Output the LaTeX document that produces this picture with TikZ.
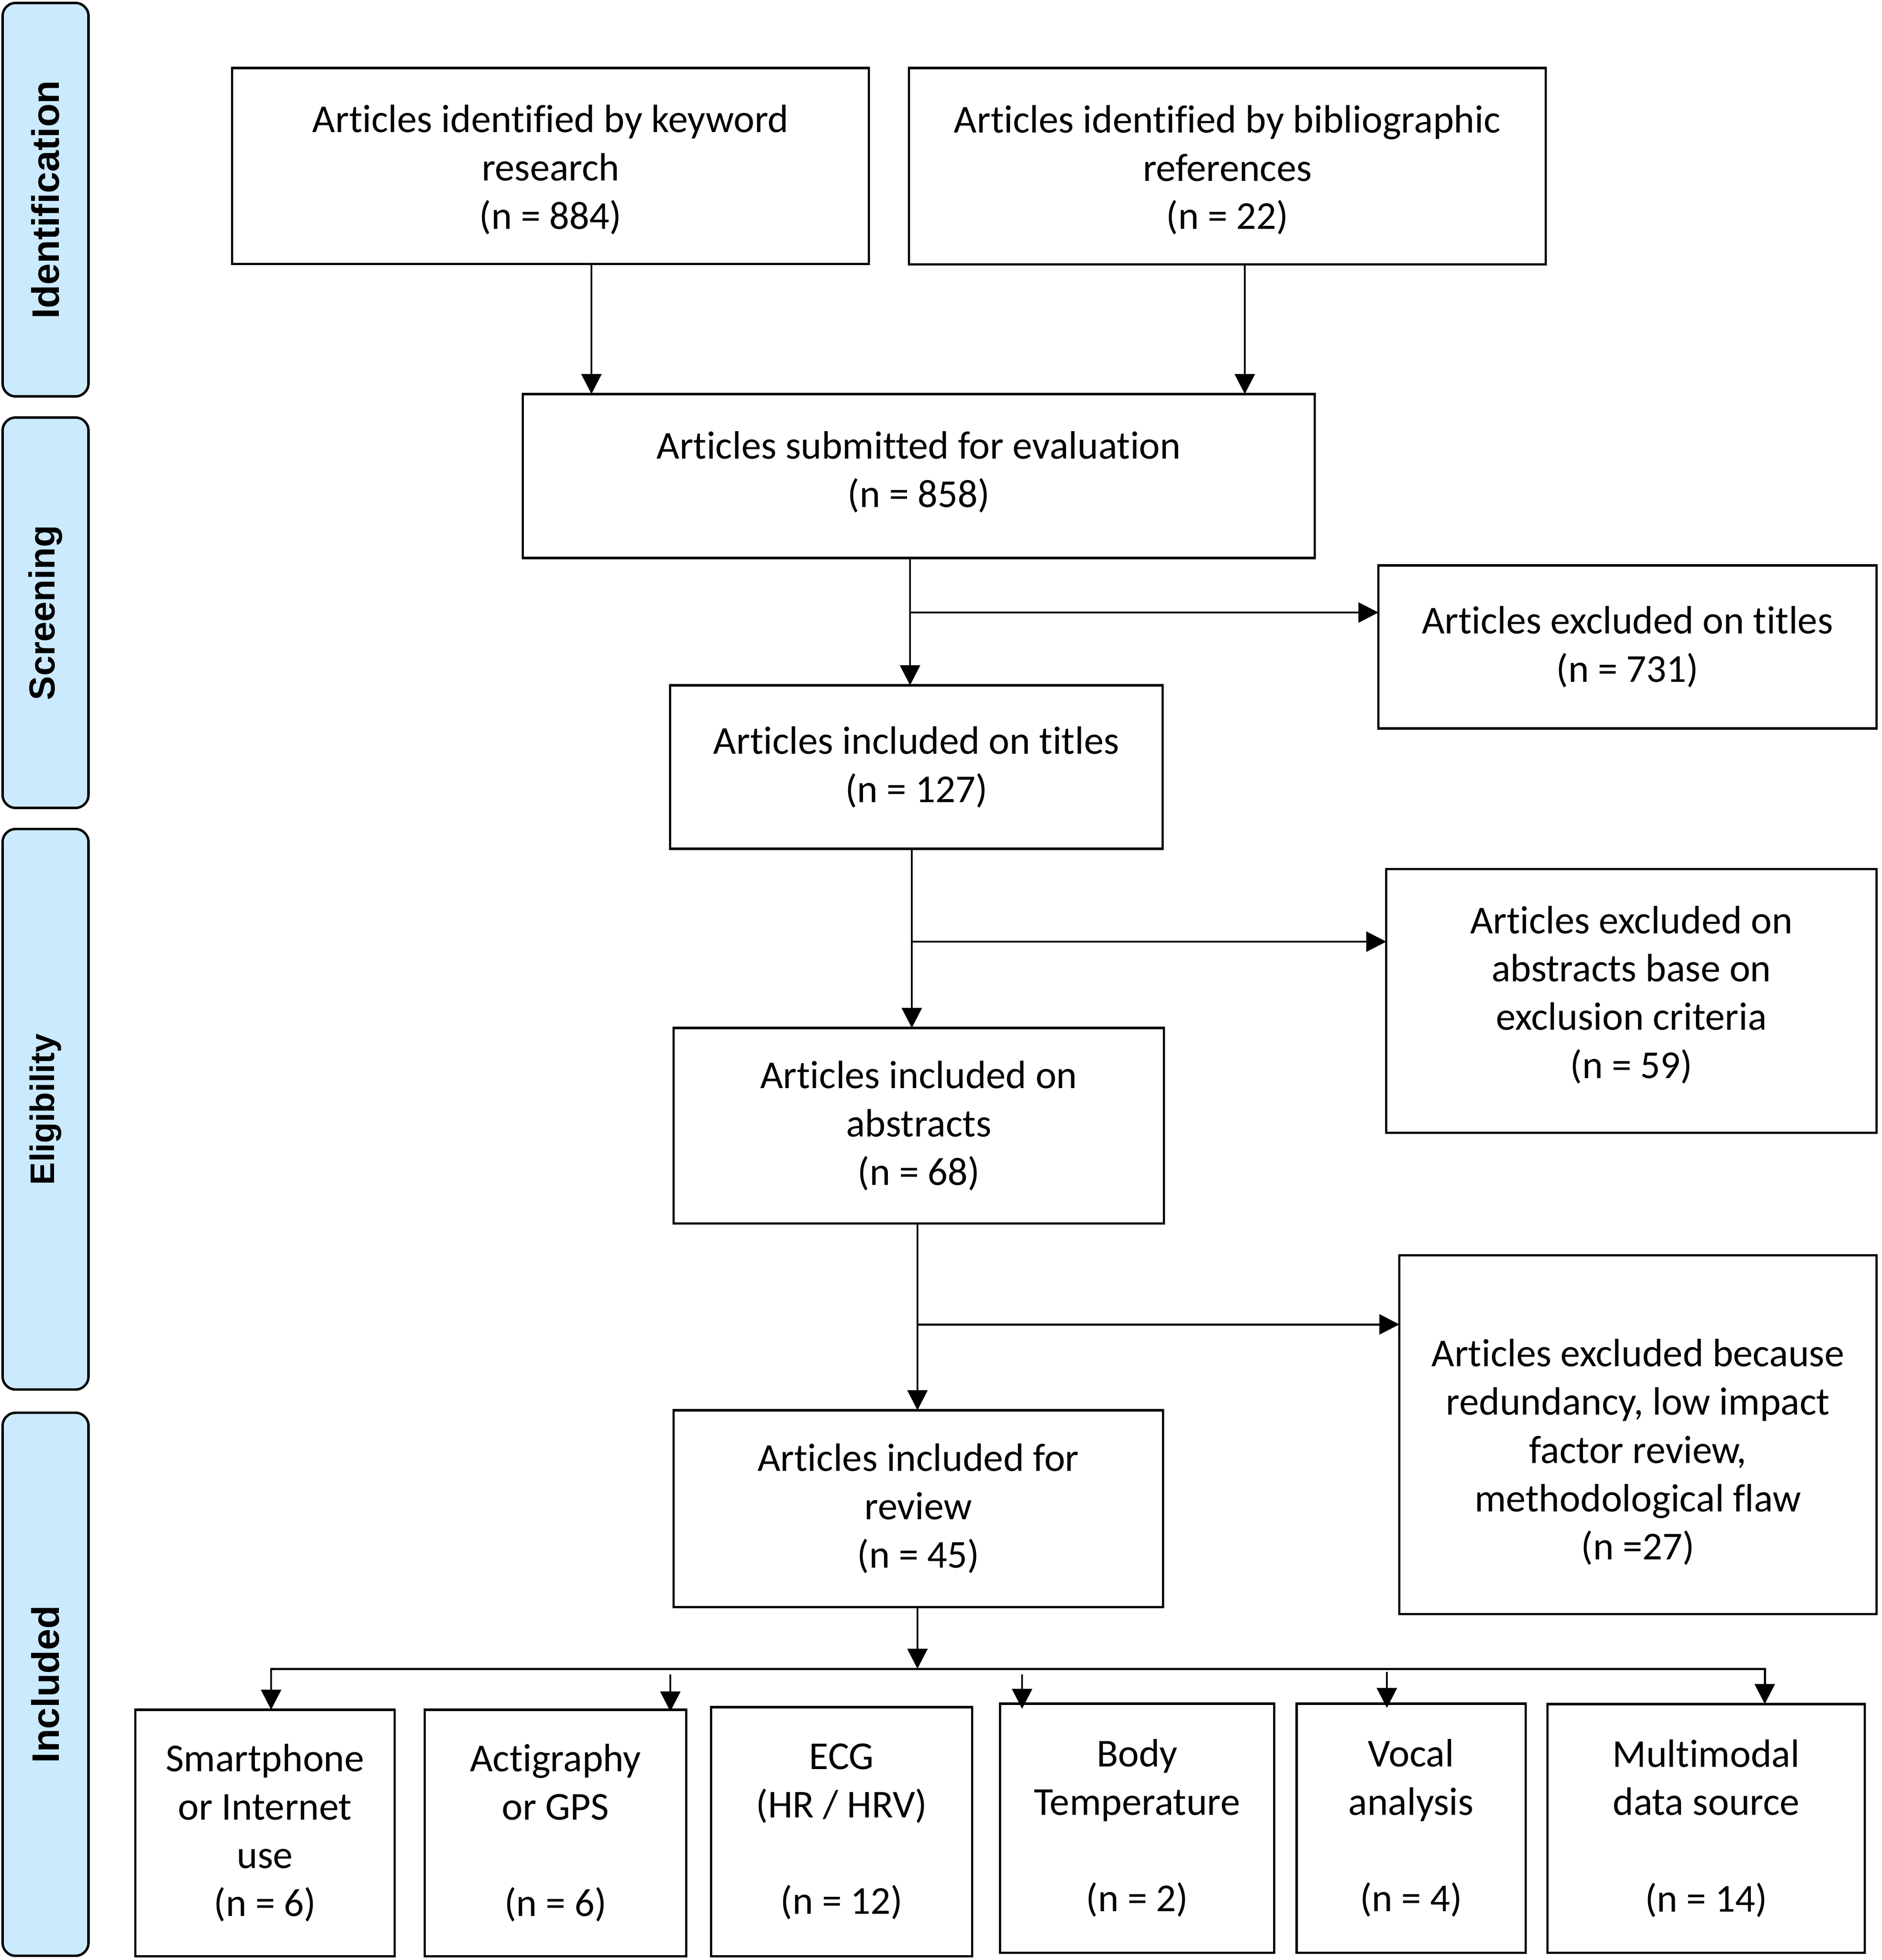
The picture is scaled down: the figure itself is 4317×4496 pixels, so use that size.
\documentclass[tikz,border=0pt]{standalone}
\usepackage{fontspec}
\setmainfont{Carlito}[Ligatures={NoCommon}]
\newfontfamily\bandfamily{Liberation Sans}
\usetikzlibrary{arrows.meta}
\definecolor{bandblue}{RGB}{203,234,253}
\newcommand\mainsize{\fontsize{25.8pt}{31.5pt}\selectfont}
\newcommand\bandsize{\bandfamily\bfseries\fontsize{25pt}{30pt}\selectfont}
\tikzset{
  box/.style={draw, line width=1.5pt, inner sep=0pt, outer sep=0pt, align=center, font=\mainsize},
  txt/.style={inner sep=0pt, align=center, font=\mainsize},
  band/.style={draw, line width=1.6pt, fill=bandblue, rounded corners=0.3cm, inner sep=0pt, outer sep=0pt, font=\bandsize, rotate=90},
  arr/.style={line width=1.4pt, -{Triangle[length=0.46cm,width=0.46cm]}},
  biarr/.style={line width=1.4pt, {Triangle[length=0.46cm,width=0.46cm]}-{Triangle[length=0.46cm,width=0.46cm]}}
}
\begin{document}
\begin{tikzpicture}[x=0.01cm,y=-0.01cm]
\useasboundingbox (0,0) rectangle (4317,4496);
% side bands
\node[band, minimum width=9.02cm, minimum height=1.97cm] (bident) at (104.5,458) {Identification};
\node[band, minimum width=8.95cm, minimum height=1.97cm, font=\bandfamily\bfseries\fontsize{23.6pt}{28pt}\selectfont] (bscreen) at (104.5,1405.5) {Screening};
\node[band, minimum width=12.85cm, minimum height=1.97cm, font=\bandfamily\bfseries\fontsize{22.2pt}{27pt}\selectfont] (belig) at (104.5,2544.5) {Eligibility};
\node[band, minimum width=12.45cm, minimum height=1.97cm] (bincl) at (104.5,3863.5) {Included};
% boxes
\node[box, minimum width=14.6cm, minimum height=4.49cm] (kw) at (1263,380.5) {};
\node[txt] (kwt) at ([yshift=-0.09cm]kw.center) {Articles identified by keyword\\research\\(n = 884)};
\node[box, minimum width=14.6cm, minimum height=4.5cm] (bib) at (2816,381) {};
\node[txt] (bibt) at ([yshift=-0.09cm]bib.center) {Articles identified by bibliographic\\references\\(n = 22)};
\node[box, minimum width=18.16cm, minimum height=3.76cm] (sub) at (2108,1092) {};
\node[txt] (subt) at ([yshift=0.09cm]sub.center) {Articles submitted for evaluation\\(n = 858)};
\node[box, minimum width=11.42cm, minimum height=3.74cm] (ext) at (3734,1484) {Articles excluded on titles\\(n = 731)};
\node[box, minimum width=11.29cm, minimum height=3.75cm] (int) at (2102.5,1759.5) {Articles included on titles\\(n = 127)};
\node[box, minimum width=11.24cm, minimum height=6.04cm] (exa) at (3743,2296) {};
\node[txt] (exat) at ([yshift=0.14cm]exa.center) {Articles excluded on\\abstracts base on\\exclusion criteria\\(n = 59)};
\node[box, minimum width=11.24cm, minimum height=4.48cm] (ina) at (2108,2582) {Articles included on\\abstracts\\(n = 68)};
\node[box, minimum width=10.94cm, minimum height=8.22cm] (exb) at (3758,3291) {};
\node[txt] (exbt) at ([yshift=-0.4cm]exb.center) {Articles excluded because\\redundancy, low impact\\factor review,\\methodological flaw\\(n =27)};
\node[box, minimum width=11.22cm, minimum height=4.51cm] (rev) at (2107,3460.5) {Articles included for\\review\\(n = 45)};
% bottom boxes
\node[box, minimum width=5.94cm, minimum height=5.65cm] (sm) at (608,4204.5) {Smartphone\\or Internet\\use\\(n = 6)};
\node[box, minimum width=5.99cm, minimum height=5.65cm] (ac) at (1274.5,4204.5) {Actigraphy\\or GPS\\~\\(n = 6)};
\node[box, minimum width=5.98cm, minimum height=5.71cm] (ecg) at (1931,4201.5) {ECG\\(HR / HRV)\\~\\(n = 12)};
\node[box, minimum width=6.28cm, minimum height=5.71cm] (bt) at (2609,4193.5) {Body\\Temperature\\~\\(n = 2)};
\node[box, minimum width=5.25cm, minimum height=5.71cm] (va) at (3237.5,4193.5) {Vocal\\analysis\\~\\(n = 4)};
\node[box, minimum width=7.27cm, minimum height=5.70cm] (mm) at (3914.5,4194) {Multimodal\\data source\\~\\(n = 14)};
% connector coordinates
\coordinate (k1) at (1357,0);
\coordinate (k2) at (2856,0);
\coordinate (b1) at (2088,1405);
\coordinate (b2) at (2092,2160);
\coordinate (b3) at (2105,3038);
\coordinate (jn) at (2105,3828);
\coordinate (L) at (622,3828);
\coordinate (R) at (4049,3828);
\coordinate (p2) at (1538,3841);
\coordinate (p4) at (2345,3841);
\coordinate (p5) at (3182,3835);
% connectors
\draw[arr] (kw.south -| k1) -- (sub.north -| k1);
\draw[arr] (bib.south -| k2) -- (sub.north -| k2);
\draw[arr] (sub.south -| b1) -- (int.north -| b1);
\draw[arr] (b1) -- (b1 -| ext.west);
\draw[arr] (int.south -| b2) -- (ina.north -| b2);
\draw[arr] (b2) -- (b2 -| exa.west);
\draw[arr] (ina.south -| b3) -- (rev.north -| b3);
\draw[arr] (b3) -- (b3 -| exb.west);
\draw[arr] (rev.south -| jn) -- (jn);
\draw[biarr] (L |- sm.north) -- (L) -- (R) -- (R |- mm.north);
\draw[arr] (p2) -- ([yshift=-0.04cm]p2 |- ac.north);
\draw[arr] (p4) -- ([yshift=-0.12cm]p4 |- bt.north);
\draw[arr] (p5) -- ([yshift=-0.1cm]p5 |- va.north);
\end{tikzpicture}
\end{document}
